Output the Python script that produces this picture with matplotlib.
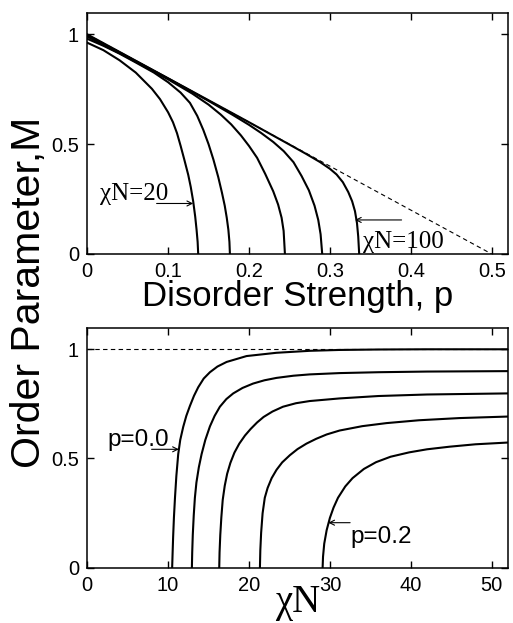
import numpy as np
import matplotlib
matplotlib.use("Agg")
import matplotlib.pyplot as plt

plt.rcParams['font.family'] = 'Liberation Sans'

# top panel: M vs disorder strength p, one curve per chi*N (20 ... 100)
p_20 = [0, 0.02, 0.04, 0.06, 0.08, 0.09, 0.1, 0.106, 0.111, 0.1155, 0.12, 0.1249,
        0.128, 0.131, 0.1335, 0.1352, 0.1365, 0.1372]
m_20 = [0.962, 0.928, 0.882, 0.826, 0.752, 0.705, 0.645, 0.60, 0.55, 0.492, 0.43, 0.36,
        0.305, 0.24, 0.17, 0.11, 0.055, 0]
p_c2 = [0, 0.02, 0.04, 0.06, 0.0824, 0.1, 0.1154, 0.127, 0.136, 0.1435, 0.15, 0.156,
        0.162, 0.1665, 0.17, 0.1725, 0.1745, 0.1758, 0.1764]
m_c2 = [0.98, 0.948, 0.912, 0.872, 0.826, 0.782, 0.735, 0.688, 0.629, 0.565, 0.50, 0.43,
        0.35, 0.28, 0.22, 0.165, 0.11, 0.055, 0]
p_c3 = [0, 0.05, 0.1, 0.13, 0.15, 0.165, 0.178, 0.19, 0.2, 0.21, 0.22, 0.23,
        0.236, 0.2403, 0.2428, 0.2444]
m_c3 = [0.99, 0.895, 0.795, 0.73, 0.68, 0.635, 0.59, 0.54, 0.492, 0.438, 0.365, 0.285,
        0.225, 0.165, 0.105, 0]
p_c4 = [0, 0.05, 0.1, 0.15, 0.18, 0.2, 0.215, 0.23, 0.243, 0.255, 0.265, 0.274,
        0.281, 0.2856, 0.2885, 0.2905]
m_c4 = [0.995, 0.898, 0.799, 0.697, 0.633, 0.588, 0.551, 0.51, 0.468, 0.418, 0.355, 0.29,
        0.22, 0.155, 0.09, 0]
p_100 = [0, 0.1, 0.2, 0.2506, 0.27, 0.2876, 0.3, 0.3083, 0.316, 0.3227, 0.3275, 0.331,
         0.3335, 0.335, 0.3362]
m_100 = [1.0, 0.8, 0.6, 0.497, 0.457, 0.419, 0.388, 0.362, 0.327, 0.282, 0.24, 0.195,
         0.14, 0.08, 0]
top_curves = [(p_20, m_20), (p_c2, m_c2), (p_c3, m_c3), (p_c4, m_c4), (p_100, m_100)]
limit_p = [0.0, 0.5]
limit_m = [1.0, 0.0]

# bottom panel: M vs chi*N, one curve per p (0.0 ... 0.2)
x_p00 = [10.5, 10.55, 10.62, 10.72, 10.85, 11.02, 11.25, 11.5, 11.87, 12.25, 12.69, 13.2,
         13.72, 14.4, 15.17, 16.1, 17.23, 19.7, 23.4, 27.5, 31.2, 36, 42, 52]
m_p00 = [0, 0.06, 0.14, 0.23, 0.32, 0.42, 0.52, 0.585, 0.645, 0.695, 0.74, 0.787,
         0.826, 0.866, 0.895, 0.921, 0.942, 0.969, 0.984, 0.993, 0.997, 0.999, 1.0, 1.0]
x_p05 = [12.94, 12.98, 13.05, 13.17, 13.31, 13.5, 13.8, 14.14, 14.6, 15.17, 15.75, 16.4,
         17.2, 18.05, 19.2, 20.5, 21.9, 23.4, 25.5, 27.5, 31.2, 36, 42, 52]
m_p05 = [0, 0.07, 0.15, 0.24, 0.32, 0.39, 0.46, 0.52, 0.585, 0.647, 0.695, 0.737,
         0.772, 0.798, 0.823, 0.843, 0.858, 0.869, 0.879, 0.885, 0.891, 0.895, 0.898, 0.9]
x_p10 = [16.32, 16.36, 16.45, 16.58, 16.75, 17.0, 17.3, 17.7, 18.2, 18.8, 19.5, 20.2,
         21.0, 21.8, 22.9, 24.2, 25.8, 27.5, 31.2, 36, 42, 52]
m_p10 = [0, 0.07, 0.15, 0.23, 0.31, 0.375, 0.43, 0.48, 0.527, 0.568, 0.605, 0.635,
         0.665, 0.69, 0.715, 0.737, 0.753, 0.763, 0.775, 0.786, 0.793, 0.798]
x_p15 = [21.35, 21.4, 21.5, 21.68, 21.95, 22.3, 22.8, 23.4, 24.1, 25.05, 26.0, 27.1,
         28.3, 29.6, 31.2, 34, 37, 41, 46, 52]
m_p15 = [0, 0.08, 0.16, 0.249, 0.32, 0.365, 0.41, 0.448, 0.482, 0.515, 0.543, 0.568,
         0.59, 0.61, 0.628, 0.648, 0.662, 0.675, 0.685, 0.692]
x_p20 = [29.1, 29.15, 29.3, 29.6, 30.0, 30.45, 31.0, 31.9, 32.8, 34.2, 35.7, 37.5,
         39.8, 42, 44.8, 48, 52]
m_p20 = [0, 0.05, 0.11, 0.172, 0.228, 0.275, 0.32, 0.372, 0.41, 0.452, 0.483, 0.508,
         0.528, 0.542, 0.554, 0.565, 0.573]
bottom_curves = [(x_p00, m_p00), (x_p05, m_p05), (x_p10, m_p10), (x_p15, m_p15), (x_p20, m_p20)]
sat_x = [0, 52]
sat_m = [1.0, 1.0]

fig = plt.figure(figsize=(5.13, 6.23), dpi=100)
ax1 = fig.add_axes([0.170, 0.5923, 0.820, 0.3864])
ax2 = fig.add_axes([0.170, 0.0888, 0.820, 0.3842])

serif = 'Liberation Serif'
arrow = dict(arrowstyle='->', lw=0.8, color='black', shrinkA=0, shrinkB=0, mutation_scale=9)

for ax in (ax1, ax2):
    ax.tick_params(direction='in', top=True, right=True, length=5, width=1,
                   labelsize=14.5, pad=6)
    for s in ax.spines.values():
        s.set_linewidth(1.1)
    ax.set_ylim(0, 1.096)
    ax.set_yticks([0, 0.5, 1])
    ax.set_yticklabels(['0', '0.5', '1'])

# top
for px, my in top_curves:
    ax1.plot(px, my, color='black', lw=1.5, solid_joinstyle='round')
ax1.plot(limit_p, limit_m, color='black', lw=0.8, linestyle=(0, (4, 3)))
ax1.set_xlim(0, 0.52)
ax1.set_xticks([0, 0.1, 0.2, 0.3, 0.4, 0.5])
ax1.set_xticklabels(['0', '0.1', '0.2', '0.3', '0.4', '0.5'])
ax1.set_xlabel('Disorder Strength, p', fontsize=25, labelpad=-1)
ax1.text(0.0157, 0.245, 'χN=20', fontsize=18, family=serif)
ax1.annotate('', xy=(0.131, 0.23), xytext=(0.0858, 0.23), arrowprops=arrow)
ax1.text(0.341, 0.029, 'χN=100', fontsize=18, family=serif)
ax1.annotate('', xy=(0.331, 0.155), xytext=(0.3886, 0.155), arrowprops=arrow)

# bottom
for cx, my in bottom_curves:
    ax2.plot(cx, my, color='black', lw=1.5, solid_joinstyle='round')
ax2.plot(sat_x, sat_m, color='black', lw=0.8, linestyle=(0, (4, 3)))
ax2.set_xlim(0, 52)
ax2.set_xticks([0, 10, 20, 30, 40, 50])
ax2.set_xlabel('χN', fontsize=28, family=serif, labelpad=-8)
ax2.text(2.56, 0.557, 'p=0.0', fontsize=17.5)
ax2.annotate('', xy=(11.33, 0.542), xytext=(7.96, 0.542), arrowprops=arrow)
ax2.text(32.5, 0.115, 'p=0.2', fontsize=17.5)
ax2.annotate('', xy=(29.8, 0.206), xytext=(32.5, 0.206), arrowprops=arrow)

fig.text(0.057, 0.530, 'Order Parameter,M', rotation=90, fontsize=29.5,
         ha='center', va='center')

fig.savefig('out.png', dpi=100)
